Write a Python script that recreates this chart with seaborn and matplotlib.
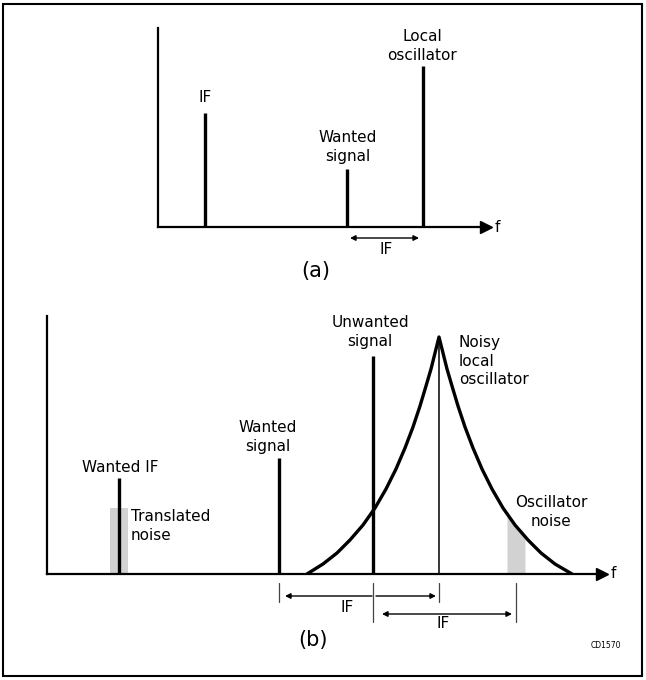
import numpy as np
import pandas as pd
import seaborn as sns
import matplotlib.pyplot as plt
from matplotlib.patches import Rectangle

sns.set_theme(style="white")
plt.rcParams['font.family'] = ['DejaVu Sans']
plt.rcParams['text.color'] = 'black'

# figure size in pixels (dpi 100)
W, H = 646, 680

# (a) simple mixer spectrum: frequency / level of each line (panel units)
a_names = ["IF", "Wanted\nsignal", "Local\noscillator"]
a_freq = [47, 189, 265]
a_level = [114, 58, 161]

# (b) mixer spectrum with a noisy local oscillator
b_names = ["Wanted IF", "Wanted\nsignal", "Unwanted\nsignal"]
b_freq = [72, 232, 326]
b_level = [96, 116, 218]

lo_freq = 392
lo_level = 237

# noise skirt of the oscillator
skirt_freq = [260, 276, 290, 303, 316, 328, 339, 349, 358, 366, 373, 379, 384, 388,
              392,
              396, 400, 405, 411, 418, 426, 435, 445, 456, 468, 481, 494, 508, 525]
skirt_level = [0, 10, 21, 34, 49, 66, 85, 105, 126, 147, 168, 188, 205, 221,
               237,
               221, 205, 188, 168, 147, 126, 105, 85, 66, 49, 34, 21, 10, 0]

# grey noise bands
transl_noise_freq = [63, 81]
transl_noise_level = [66, 66]
osc_noise_freq = [460, 478]
osc_noise_level = [60, 38]

GREY = "#d2d2d2"
LW_LINE = 2.4
FS = 11
LSP = 1.3


def panel_axes(fig, x0, y0, w, h):
    # origin of the panel at pixel (x0, y0), 1 data unit = 1 pixel
    ax = fig.add_axes([x0 / W, (H - y0) / H, w / W, h / H])
    ax.set_xlim(0, w)
    ax.set_ylim(0, h)
    ax.set_xticks([])
    ax.set_yticks([])
    ax.patch.set_alpha(0)
    for s in ["top", "right"]:
        ax.spines[s].set_visible(False)
    for s in ["left", "bottom"]:
        ax.spines[s].set_color("black")
        ax.spines[s].set_linewidth(1.6)
    # arrow head at the end of the frequency axis
    ax.plot(w + 4, 0, marker=">", ms=8, color="black", clip_on=False)
    ax.text(w + 13, 0, "f", fontsize=FS, va="center", ha="left")
    return ax


def dbl_arrow(ax, x1, x2, y, style="<|-|>"):
    ax.annotate("", xy=(x2, y), xytext=(x1, y),
                arrowprops=dict(arrowstyle=style, color="black", lw=1.0,
                                mutation_scale=8, shrinkA=0, shrinkB=0),
                annotation_clip=False)


def tick(ax, x, y1, y2):
    ax.plot([x, x], [y1, y2], color="#444444", lw=0.9, clip_on=False)


fig = plt.figure(figsize=(W / 100, H / 100), dpi=100)

# outer frame
fig.patches.append(Rectangle((3 / W, 4 / H), 639 / W, 672 / H, fill=False,
                             edgecolor="black", lw=1.5,
                             transform=fig.transFigure))

# ---------------- (a) ----------------
ax_a = panel_axes(fig, 158, 227, 324, 199)
ax_a.vlines(a_freq, 0, a_level, color="black", lw=LW_LINE)

ax_a.text(a_freq[0], 129, a_names[0], fontsize=FS, ha="center", va="center")
ax_a.text(a_freq[1] + 1, 80, a_names[1], fontsize=FS, ha="center",
          va="center", linespacing=LSP)
ax_a.text(a_freq[2] - 1, 181, a_names[2], fontsize=FS, ha="center",
          va="center", linespacing=LSP)

dbl_arrow(ax_a, a_freq[1] + 3, a_freq[2] - 4, -11)
ax_a.text(228, -23, "IF", fontsize=FS, ha="center", va="center")
ax_a.text(158, -44, "(a)", fontsize=15, ha="center", va="center")

# ---------------- (b) ----------------
ax_b = panel_axes(fig, 47, 574, 551, 258)

ax_b.fill_between(transl_noise_freq, 0, transl_noise_level, color=GREY,
                  lw=0, zorder=1)
ax_b.fill_between(osc_noise_freq, 0, osc_noise_level, color=GREY,
                  lw=0, zorder=1)

ax_b.vlines(b_freq, 0, b_level, color="black", lw=LW_LINE, zorder=3)
ax_b.vlines(lo_freq, 0, lo_level, color="black", lw=1.1, zorder=3)

skirt = pd.DataFrame({"freq": skirt_freq, "level": skirt_level})
sns.lineplot(data=skirt, x="freq", y="level", ax=ax_b, color="black",
             lw=LW_LINE, sort=False, estimator=None, zorder=3)
ax_b.set_xlabel("")
ax_b.set_ylabel("")

ax_b.text(73, 106, b_names[0], fontsize=FS, ha="center", va="center")
ax_b.text(221, 137, b_names[1], fontsize=FS, ha="center", va="center",
          linespacing=LSP)
ax_b.text(323, 242, b_names[2], fontsize=FS, ha="center", va="center",
          linespacing=LSP)
ax_b.text(84, 48, "Translated\nnoise", fontsize=FS, ha="left", va="center",
          linespacing=LSP)
ax_b.text(412, 213, "Noisy\nlocal\noscillator", fontsize=FS, ha="left",
          va="center", linespacing=LSP)
ax_b.text(504, 62, "Oscillator\nnoise", fontsize=FS, ha="center",
          va="center", linespacing=LSP)

# IF spacing markers under the axis
tick(ax_b, b_freq[1], -9, -28)
tick(ax_b, b_freq[2], -9, -48)
tick(ax_b, lo_freq, -9, -28)
tick(ax_b, 469, -9, -48)
dbl_arrow(ax_b, b_freq[2] - 1, b_freq[1] + 6, -22, style="-|>")
dbl_arrow(ax_b, b_freq[2] + 3, lo_freq - 3, -22, style="-|>")
dbl_arrow(ax_b, b_freq[2] + 9, 465, -40)
ax_b.text(300, -34, "IF", fontsize=FS, ha="center", va="center")
ax_b.text(396, -49, "IF", fontsize=FS, ha="center", va="center")
ax_b.text(266, -66, "(b)", fontsize=15, ha="center", va="center")
ax_b.text(559, -71, "CD1570", fontsize=5.5, ha="center", va="center")

fig.savefig("out.png", dpi=100)
